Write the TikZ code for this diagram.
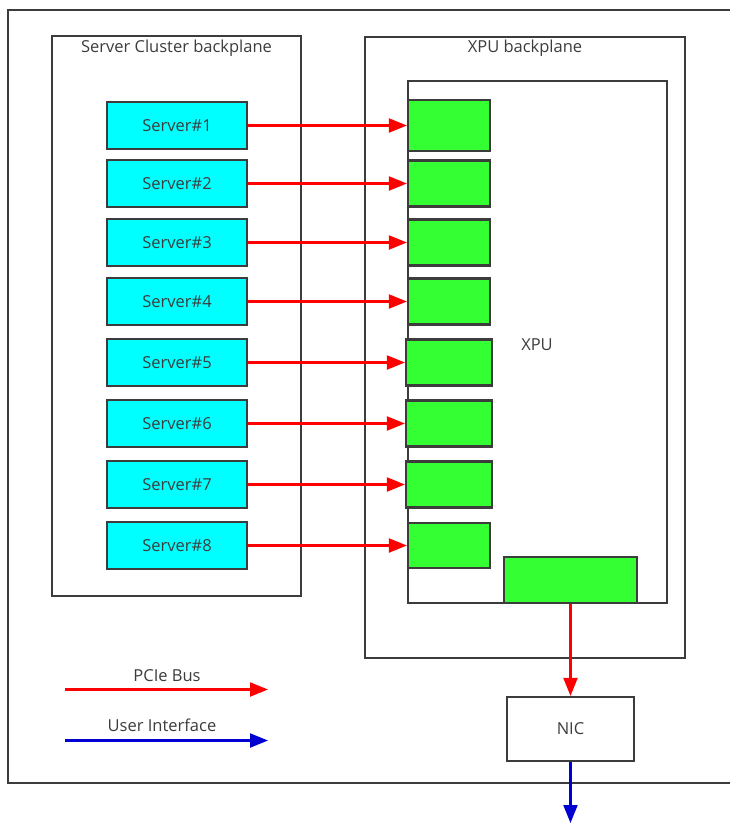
\documentclass[tikz,border=0pt]{standalone}
\usepackage{fontspec}
\setmainfont{Open Sans}
\usetikzlibrary{arrows.meta}
\definecolor{servercyan}{RGB}{0,255,255}
\definecolor{xpugreen}{RGB}{51,255,51}
\definecolor{framegray}{RGB}{60,60,60}
\definecolor{pciered}{RGB}{255,0,0}
\definecolor{userblue}{RGB}{0,0,210}

\begin{document}
\begin{tikzpicture}[x=1pt, y=-1pt,
box/.style={draw=framegray, line width=2.2pt, rectangle, inner sep=0pt, text=framegray, font=\fontsize{16.5}{19}\selectfont},
server/.style={box, fill=servercyan, minimum width=140pt, minimum height=47pt},
port/.style={box, fill=xpugreen},
lbl/.style={text=framegray, font=\fontsize{16.5}{19}\selectfont},
pcie/.style={draw=pciered, line width=2.1pt, -{Triangle[length=18pt,width=14pt]}},
user/.style={draw=userblue, line width=2.1pt, -{Triangle[length=18pt,width=14pt]}},
]
\clip (0,0) rectangle (730,823);
\fill[white] (0,0) rectangle (730,823);

\draw[framegray, line width=2.2pt] (8,10) rectangle (745,783);

\node[box, minimum width=249pt, minimum height=560pt] (cluster) at (176.5,316) {};
\node[lbl] (clusterlbl) at (176.5,48) {Server Cluster backplane};
\node[box, minimum width=320pt, minimum height=621pt] (xpuplane) at (525,347.5) {};
\node[lbl] (xpuplanelbl) at (525,48) {XPU backplane};
\node[box, fill=white, minimum width=259pt, minimum height=522pt] (xpu) at (537.5,342) {};
\node[lbl] (xpulbl) at (537,345) {XPU};

\foreach \i/\y/\w/\h in {1/125.5/82/51,2/183.5/82/46,3/242.5/82/46,4/301.5/82/46,5/362.5/86/46,6/423.5/86/46,7/484.5/86/46,8/545.5/82/45}{
  \node[server] (s\i) at (177,\y) {Server\#\i};
  \node[port, minimum width=\w pt, minimum height=\h pt] (p\i) at (449,\y) {};
  \draw[pcie] (s\i) -- (p\i);
}

\node[port, minimum width=133pt, minimum height=46pt] (nicport) at (570.5,580) {};
\node[box, minimum width=127pt, minimum height=64pt] (nic) at (570.5,729) {NIC};
\coordinate (out) at (570.5,823);
\draw[pcie] (nicport) -- (nic);
\draw[user] (nic) -- (out);

\coordinate (pciea) at (65,689.5);
\coordinate (pcieb) at (268,689.5);
\draw[pcie] (pciea) -- (pcieb);
\node[lbl] (pcielbl) at (167,676) {PCIe Bus};
\coordinate (usera) at (65,740.5);
\coordinate (userb) at (268,740.5);
\draw[user] (usera) -- (userb);
\node[lbl] (userlbl) at (162,725) {User Interface};
\end{tikzpicture}
\end{document}
